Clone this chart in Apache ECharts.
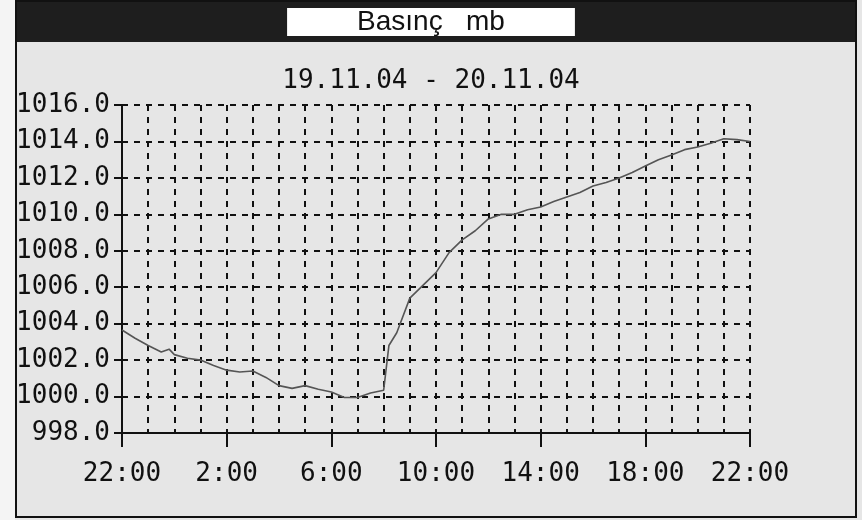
<!DOCTYPE html>
<html>
<head>
<meta charset="utf-8">
<script src="https://cdn.jsdelivr.net/npm/echarts@6/dist/echarts.min.js"></script>
<style>
  html, body { margin: 0; padding: 0; background: #f4f4f4; }
  #chart { width: 862px; height: 520px; }
</style>
</head>
<body>
<div id="chart"></div>
<script>
// hours after 22:00 on 19.11.04
var hours = [0, 0.5, 1, 1.5, 1.8, 2, 2.5, 3, 3.5, 4, 4.5, 5, 5.5, 6, 6.5, 7, 7.5, 8, 8.5, 9, 9.5, 10,
  10.2, 10.5, 11, 11.5, 12, 12.5, 13, 13.5, 14, 14.5, 15, 15.5, 16, 16.5, 17, 17.5, 18, 18.5, 19,
  19.5, 20, 20.5, 21, 21.5, 22, 22.5, 23, 23.5, 24];
var pressure = [1003.65, 1003.2, 1002.8, 1002.45, 1002.6, 1002.3, 1002.1, 1002.0, 1001.7, 1001.45, 1001.35,
  1001.4, 1001.05, 1000.6, 1000.45, 1000.6, 1000.4, 1000.25, 999.95, 999.95, 1000.2, 1000.35,
  1002.8, 1003.5, 1005.4, 1006.1, 1006.8, 1007.9, 1008.6, 1009.1, 1009.75, 1010.0, 1010.0, 1010.25,
  1010.4, 1010.7, 1010.95, 1011.2, 1011.55, 1011.75, 1012.0, 1012.3, 1012.65, 1013.0, 1013.25,
  1013.55, 1013.7, 1013.9, 1014.15, 1014.1, 1014.0];
var xTickLabels = ['22:00', '2:00', '6:00', '10:00', '14:00', '18:00', '22:00'];

var seriesData = [];
hours.forEach(function (h, i) {
    seriesData.push([h, pressure[i]]);
});

var mono = 'DejaVu Sans Mono';
var chart = echarts.init(document.getElementById('chart'));
chart.setOption({
    backgroundColor: '#e6e6e6',
    animation: false,
    title: [
        {
            text: 'Basınç   mb',
            left: 'center',
            top: 8,
            backgroundColor: '#fff',
            padding: [0, 70, 0, 70],
            textStyle: {
                fontFamily: 'Liberation Sans',
                fontSize: 28,
                fontWeight: 'normal',
                color: '#111'
            }
        },
        {
            text: '19.11.04 - 20.11.04',
            left: 'center',
            top: 63,
            textStyle: {
                fontFamily: mono,
                fontSize: 26,
                fontWeight: 'normal',
                color: '#111'
            }
        }
    ],
    graphic: [
        { type: 'rect', z: -10, shape: { x: 0, y: 0, width: 15, height: 520 }, style: { fill: '#f4f4f4' } },
        { type: 'rect', z: -9, shape: { x: 15, y: 0, width: 841, height: 42 }, style: { fill: '#1e1e1e' } },
        { type: 'rect', z: -8, shape: { x: 16, y: 1, width: 840, height: 516 }, style: { fill: 'none', stroke: '#111', lineWidth: 2 } }
    ],
    grid: {
        left: 122,
        right: 112,
        top: 105,
        bottom: 87
    },
    xAxis: {
        type: 'value',
        min: 0,
        max: 24,
        interval: 4,
        axisLine: { lineStyle: { color: '#111', width: 2 } },
        axisTick: { length: 14, lineStyle: { color: '#111', width: 2 } },
        minorTick: { show: false, splitNumber: 4 },
        axisLabel: {
            margin: 28,
            fontFamily: mono,
            fontSize: 26,
            color: '#111',
            formatter: function (v) { return xTickLabels[v / 4]; }
        },
        splitLine: { show: true, lineStyle: { color: '#111', width: 2, type: [6, 6] } },
        minorSplitLine: { show: true, lineStyle: { color: '#111', width: 2, type: [6, 6] } }
    },
    yAxis: {
        type: 'value',
        min: 998,
        max: 1016,
        interval: 2,
        axisLine: { show: true, lineStyle: { color: '#111', width: 2 } },
        axisTick: { show: true, length: 8, lineStyle: { color: '#111', width: 2 } },
        axisLabel: {
            margin: 12,
            fontFamily: mono,
            fontSize: 26,
            color: '#111',
            formatter: function (v) { return v.toFixed(1); }
        },
        splitLine: { show: true, lineStyle: { color: '#111', width: 2, type: [6, 6] } }
    },
    series: [{
        type: 'line',
        data: seriesData,
        showSymbol: false,
        lineStyle: { color: '#555', width: 1.6 }
    }]
});
</script>
</body>
</html>
